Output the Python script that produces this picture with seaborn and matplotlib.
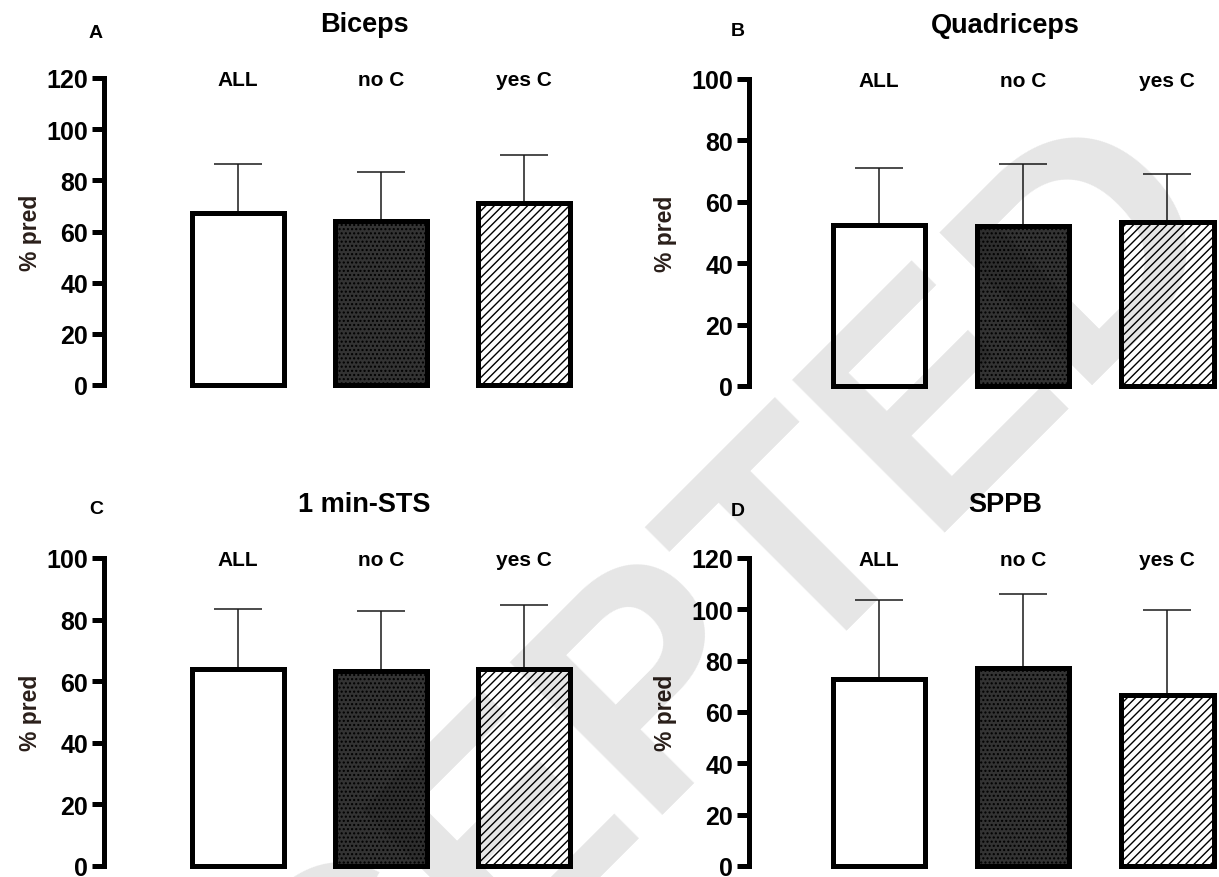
import matplotlib
matplotlib.use('Agg')
import matplotlib.pyplot as plt
import matplotlib.transforms as mtransforms
import seaborn as sns

# ---------------- data ----------------
groups = ['ALL', 'no C', 'yes C']

biceps_mean = [67.4, 64.2, 71.2]
biceps_sd = [18.9, 19.2, 18.6]

quad_mean = [52.5, 52.1, 53.5]
quad_sd = [18.4, 20.3, 15.7]

sts_mean = [63.8, 63.2, 64.1]
sts_sd = [19.6, 19.7, 20.6]

sppb_mean = [72.9, 77.1, 66.8]
sppb_sd = [30.9, 28.8, 32.9]

panel_titles = ['Biceps', 'Quadriceps', '1 min-STS', 'SPPB']
panel_letters = ['A', 'B', 'C', 'D']
y_max = [120, 100, 100, 120]

# ---------------- style ----------------
sns.set_style('ticks')
plt.rcParams['font.family'] = ['Liberation Sans', 'DejaVu Sans']
plt.rcParams['hatch.linewidth'] = 1.0

W, H = 1219, 878
fig = plt.figure(figsize=(W / 100, H / 100), dpi=100)
fig.patch.set_facecolor('white')

# axes rectangles in pixels: (left spine x, right x, y of 0, y of top)
rects_px = [
    (104, 595.5, 386, 79),
    (749, 1219, 387, 80),
    (104, 595.5, 867, 559),
    (749, 1219, 867, 559),
]
xlims = [(-0.937, 2.5), (-0.903, 2.358), (-0.937, 2.5), (-0.903, 2.358)]
ylabel_x = [-0.15, -0.178, -0.15, -0.178]

faces = ['white', '#333333', 'white']
hatches = [None, '....', '////']

means_all = [biceps_mean, quad_mean, sts_mean, sppb_mean]
sds_all = [biceps_sd, quad_sd, sts_sd, sppb_sd]

# title / letter positions in pixels
title_px = [(364.5, 25), (1005.5, 26), (364.5, 505), (1005.5, 505)]
letter_px = [(96, 33), (738, 32), (96, 510), (738, 511)]

for k in range(4):
    l, r, y0, y1 = rects_px[k]
    ax = fig.add_axes([l / W, (H - y0) / H, (r - l) / W, (y0 - y1) / H])
    ax.set_facecolor('none')

    sns.barplot(x=groups, y=means_all[k], color='white', edgecolor='black',
                linewidth=3.6, width=0.64, errorbar=None, ax=ax)
    for p, fc, h in zip(ax.patches, faces, hatches):
        p.set_facecolor(fc)
        p.set_edgecolor('black')
        if h:
            p.set_hatch(h)
        p.set_clip_on(False)

    ax.errorbar(range(len(groups)), means_all[k],
                yerr=[[0] * len(groups), sds_all[k]], fmt='none',
                ecolor='#1a1a1a', elinewidth=1.1, capsize=17, capthick=1.1,
                zorder=0.5, clip_on=False)

    ax.set_xlim(*xlims[k])
    ax.set_ylim(0, y_max[k])
    ax.set_yticks(range(0, y_max[k] + 1, 20))
    ax.set_xticks([])
    ax.set_xlabel('')
    for s in ['top', 'right', 'bottom']:
        ax.spines[s].set_visible(False)
    ax.spines['left'].set_linewidth(3.6)
    ax.spines['left'].set_color('black')
    ax.tick_params(axis='y', length=8.6, width=3.6, pad=3, labelsize=18,
                   color='black', labelcolor='black')
    for t in ax.get_yticklabels():
        t.set_fontweight('bold')

    ax.set_ylabel('% pred', fontsize=16.5, fontweight='bold', color='#2a1f1a',
                  va='center')
    ax.yaxis.set_label_coords(ylabel_x[k], 0.5)

    trans = mtransforms.blended_transform_factory(ax.transData, ax.transAxes)
    for i, g in enumerate(groups):
        ax.text(i, 0.995, g, transform=trans, ha='center', va='center',
                fontsize=15, fontweight='bold', color='black')

    tx, ty = title_px[k]
    fig.text(tx / W, 1 - ty / H, panel_titles[k], ha='center', va='center',
             fontsize=19.5, fontweight='bold', color='black')
    lx, ly = letter_px[k]
    fig.text(lx / W, 1 - ly / H, panel_letters[k], ha='center', va='center',
             fontsize=14, fontweight='bold', color='black')

# journal watermark
fig.text(570 / W, 1 - 785 / H, 'ACCEPTED', ha='center', va='center',
         rotation=45, rotation_mode='anchor', fontsize=225, fontweight='bold',
         color='black', alpha=0.10, zorder=10)

fig.savefig('out.png', dpi=100, facecolor='white')
